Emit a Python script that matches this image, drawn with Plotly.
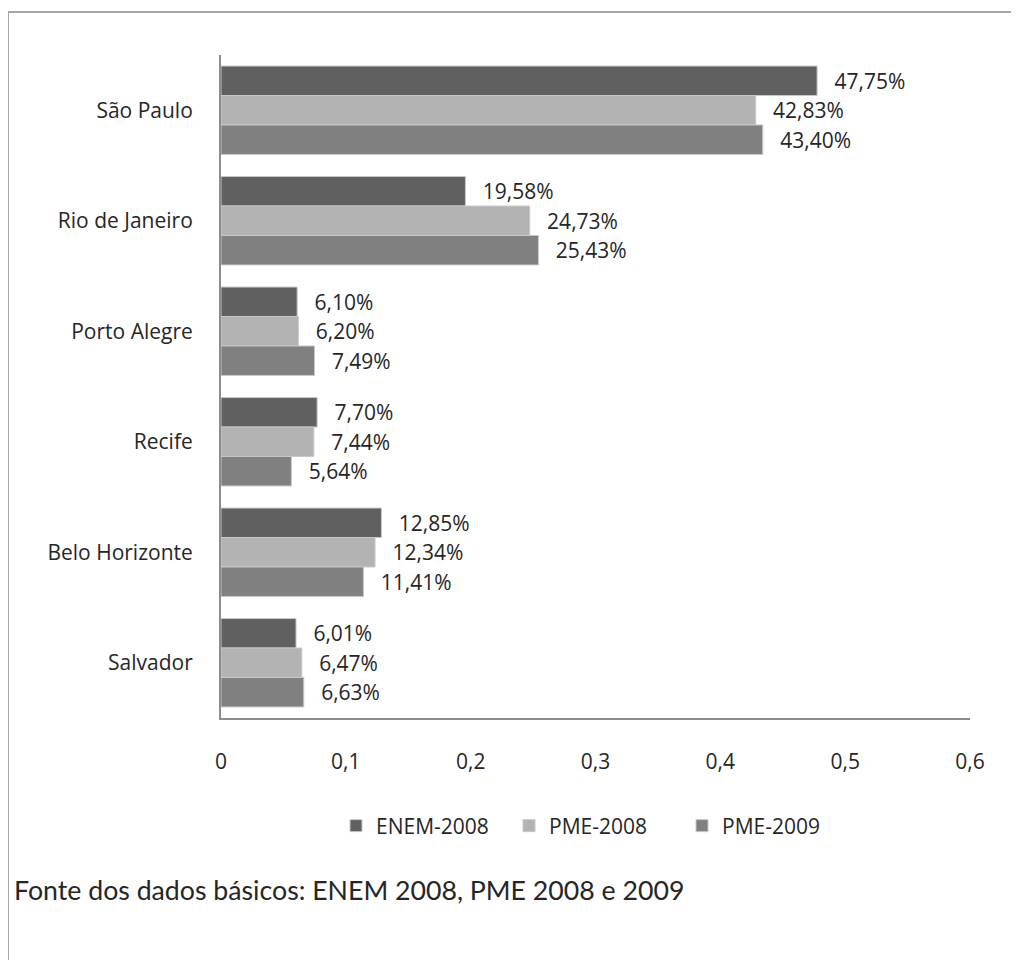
import plotly.graph_objects as go

# dados do gráfico
cidades = ['São Paulo', 'Rio de Janeiro', 'Porto Alegre', 'Recife', 'Belo Horizonte', 'Salvador']
enem_2008 = [0.4775, 0.1958, 0.0610, 0.0770, 0.1285, 0.0601]
pme_2008 = [0.4283, 0.2473, 0.0620, 0.0744, 0.1234, 0.0647]
pme_2009 = [0.4340, 0.2543, 0.0749, 0.0564, 0.1141, 0.0663]
x_ticks = [0, 0.1, 0.2, 0.3, 0.4, 0.5, 0.6]
x_tick_labels = ['0', '0,1', '0,2', '0,3', '0,4', '0,5', '0,6']

series = [
    ('ENEM-2008', enem_2008, '#606060'),
    ('PME-2008', pme_2008, '#b3b3b3'),
    ('PME-2009', pme_2009, '#808080'),
]

FONT = 'Open Sans, Lato, sans-serif'
TXT = '#262626'

# a página tem margem de 8px no body; tamanho e margens descontam isso
W, H = 1011, 952
L, R, T, B = 213, 49, 47, 242
PW, PH = W - L - R, H - T - B


def px(x):
    return (x - L) / PW


def py(y):
    return (H - B - y) / PH


def pct(v):
    # formato brasileiro: 47,75%
    return '  \u2009' + f'{v * 100:.2f}'.replace('.', ',') + '%'


fig = go.Figure()
for name, vals, color in series:
    fig.add_trace(go.Bar(
        y=cidades,
        x=vals,
        name=name,
        orientation='h',
        marker=dict(color=color, line=dict(color='#c8c8c8', width=1)),
        text=[pct(v) for v in vals],
        textposition='outside',
        textfont=dict(family=FONT, size=21, color=TXT),
        cliponaxis=False,
    ))

fig.update_layout(
    width=W,
    height=H,
    barmode='group',
    bargap=0.2,
    bargroupgap=0,
    plot_bgcolor='white',
    paper_bgcolor='white',
    margin=dict(l=L, r=R, t=T, b=B),
    font=dict(family=FONT, size=21, color=TXT),
    showlegend=True,
    legend=dict(
        orientation='h',
        x=0.5, xanchor='center',
        y=py(818), yanchor='middle',
        font=dict(family=FONT, size=21, color=TXT),
        entrywidth=128,
        traceorder='normal',
    ),
    xaxis=dict(
        range=[0, 0.6],
        tickvals=x_ticks,
        ticktext=x_tick_labels,
        showgrid=False,
        zeroline=False,
        showline=True,
        linecolor='#8c8c8c',
        linewidth=2,
        ticks='',
        ticklabelstandoff=24,
        fixedrange=True,
    ),
    yaxis=dict(
        autorange='reversed',
        showgrid=False,
        showline=True,
        linecolor='#8c8c8c',
        linewidth=2,
        ticks='',
        ticklabelstandoff=22,
        fixedrange=True,
    ),
    annotations=[dict(
        text='Fonte dos dados básicos: ENEM 2008, PME 2008 e 2009',
        xref='paper', yref='paper',
        x=px(4), xanchor='left',
        y=py(882), yanchor='middle',
        showarrow=False,
        font=dict(family='Lato, sans-serif', size=26.7, color=TXT),
    )],
    shapes=[dict(
        type='rect',
        xref='paper', yref='paper',
        x0=px(0), x1=px(W + 20),
        y0=py(H + 20), y1=py(4),
        line=dict(color='#a6a6a6', width=2),
        layer='below',
    )],
)

fig.write_html('out.html')
